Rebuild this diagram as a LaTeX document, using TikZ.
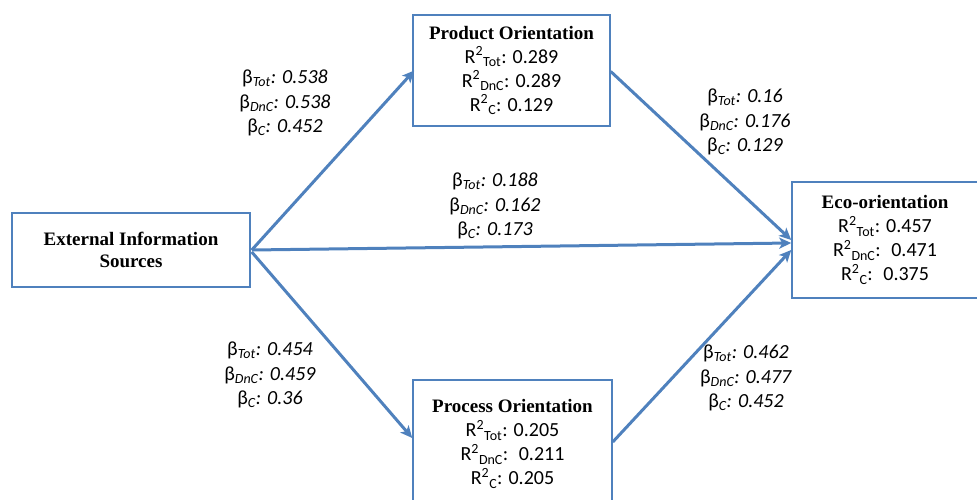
\documentclass[tikz,border=0pt]{standalone}
\usepackage{fontspec}
\setmainfont{Carlito}
\newfontfamily\titlefont{Liberation Serif}
\usetikzlibrary{arrows.meta}
\definecolor{blu}{RGB}{79,129,189}
\newcommand\ttl[1]{{\titlefont\bfseries\fontsize{19}{24}\selectfont #1}}
\newcommand\rsq[2]{R\textsuperscript{2}\textsubscript{#1}: #2}
\newcommand\bet[2]{β\textsubscript{\itshape #1}\textit{: #2}}
\begin{document}
\begin{tikzpicture}[x=1pt,y=-1pt,
  box/.style={draw=blu, line width=1.5pt, inner sep=0pt, align=center,
    font=\fontsize{20}{24}\selectfont},
  arr/.style={draw=blu, line width=3pt, -{Stealth[length=12pt,width=11pt,inset=3pt]}},
  lbl/.style={align=center, inner sep=0pt, font=\fontsize{20}{24.5}\selectfont}]
\useasboundingbox (0,0) rectangle (977,500);
\node[box, minimum width=197, minimum height=111] (prod) at (511.5,70.5)
  {\ttl{Product Orientation}\\ \rsq{Tot}{0.289}\\ \rsq{DnC}{0.289}\\ \rsq{C}{0.129}};
\node[box, minimum width=199, minimum height=128] (proc) at (512.5,444)
  {\ttl{Process Orientation}\\ \rsq{Tot}{0.205}\\ \rsq{DnC}{\ 0.211}\\ \rsq{C}{0.205}};
\node[box, minimum width=186, minimum height=116] (eco) at (885,240)
  {\ttl{Eco-orientation}\\ \rsq{Tot}{0.457}\\ \rsq{DnC}{\ 0.471}\\ \rsq{C}{\ 0.375}};
\node[box, minimum width=238, minimum height=74] (ext) at (131,250)
  {\ttl{External Information}\\[-2pt] \ttl{Sources}};
\draw[arr] ([xshift=1pt]ext.east) -- ([xshift=2pt]prod.west);
\draw[arr] ([xshift=1pt]ext.east) -- ([yshift=-3pt]eco.west);
\draw[arr] ([xshift=1pt,yshift=-2pt]ext.east) -- ([yshift=6pt]proc.west);
\draw[arr] ([yshift=-1pt]prod.east) -- (eco.west);
\draw[arr] ([yshift=2pt]proc.east) -- ([yshift=-10pt]eco.west);
\node[lbl] (l1) at (285,103) {\bet{Tot}{0.538}\\ \bet{DnC}{0.538}\\ \bet{C}{0.452}};
\node[lbl] (l2) at (495,206) {\bet{Tot}{0.188}\\ \bet{DnC}{0.162}\\ \bet{C}{0.173}};
\node[lbl] (l3) at (745,122) {\bet{Tot}{0.16}\\ \bet{DnC}{0.176}\\ \bet{C}{0.129}};
\node[lbl] (l4) at (270,375) {\bet{Tot}{0.454}\\ \bet{DnC}{0.459}\\ \bet{C}{0.36}};
\node[lbl] (l5) at (746,378) {\bet{Tot}{0.462}\\ \bet{DnC}{0.477}\\ \bet{C}{0.452}};
\end{tikzpicture}
\end{document}
